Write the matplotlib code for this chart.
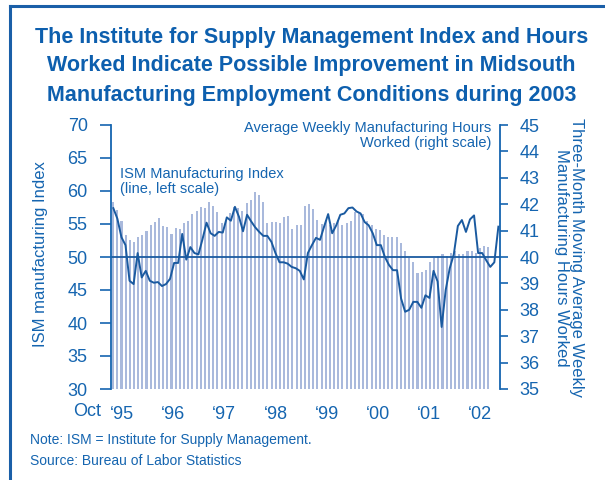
import numpy as np
import matplotlib.pyplot as plt

# ISM manufacturing index, monthly (left scale)
ism = [57.4, 55.8, 53.0, 51.8, 46.4, 45.9, 50.6, 46.9, 47.9, 46.4, 46.1, 46.2,
       45.6, 45.9, 46.7, 49.1, 49.1, 53.5, 49.6, 51.5, 50.6, 50.4, 52.7, 55.2,
       53.6, 53.2, 53.8, 53.7, 56.0, 55.5, 57.6, 56.1, 53.9, 56.4, 55.4, 54.5,
       53.8, 53.2, 53.2, 52.3, 50.6, 49.2, 49.2, 49.0, 48.5, 48.3, 47.9, 46.6,
       50.6, 51.8, 52.9, 52.6, 54.6, 56.5, 53.6, 54.8, 56.4, 56.6, 57.4, 57.5,
       56.9, 56.6, 55.3, 54.8, 53.6, 51.8, 51.8, 50.0, 48.8, 48.0, 48.0, 43.7,
       41.7, 42.0, 43.2, 43.2, 42.3, 44.2, 43.8, 47.9, 46.3, 39.4, 45.0, 48.3,
       50.4, 54.7, 55.6, 53.8, 55.7, 56.3, 50.6, 50.6, 49.5, 48.5, 49.2, 54.6]

# three-month moving average weekly manufacturing hours (right scale)
hours = [42.09, 41.78, 41.36, 40.83, 40.64, 40.57, 40.76, 40.83, 41.00, 41.20,
         41.33, 41.48, 41.17, 41.12, 40.87, 41.10, 41.07, 41.28, 41.36, 41.63,
         41.75, 41.89, 41.87, 42.08, 41.93, 41.70, 41.28, 41.38, 41.68, 41.90,
         41.86, 41.73, 42.06, 42.16, 42.47, 42.36, 42.08, 41.28, 41.33, 41.33,
         41.28, 41.50, 41.55, 41.07, 41.20, 41.20, 41.93, 42.00, 41.83, 41.40,
         41.25, 41.40, 41.21, 41.28, 41.40, 41.21, 41.28, 41.38, 41.70, 41.70,
         41.63, 41.38, 41.20, 41.07, 41.02, 40.82, 40.77, 40.77, 40.75, 40.52,
         40.23, 39.95, 39.82, 39.38, 39.44, 39.50, 39.80, 39.97, 40.05, 40.10,
         40.05, 40.14, 40.23, 40.10, 40.10, 40.23, 40.23, 40.14, 40.33, 40.42,
         40.38]

year_labels = ["\u201895", "\u201896", "\u201897", "\u201898", "\u201899",
               "\u201800", "\u201801", "\u201802"]
year_pos = [2.1, 14.3, 26.6, 39.0, 51.3, 63.6, 75.8, 88.1]  # in bar months

BLUE = "#1565b0"
DARK = "#1a5aa0"
BAR = "#a9b9dc"

plt.rcParams["font.family"] = ["Liberation Sans", "DejaVu Sans"]

fig = plt.figure(figsize=(6.05, 4.8), dpi=100)
rect = [111.3 / 605, 1 - 389 / 480, (500 - 111.3) / 605, (389 - 125) / 480]

# bars, right scale
axb = fig.add_axes(rect)
xb = np.arange(len(hours))
axb.bar(xb, np.array(hours) - 35, bottom=35, width=0.5, color=BAR, zorder=1)
axb.set_xlim(-0.45, 92.8)
axb.set_ylim(35, 45)
axb.yaxis.tick_right()
axb.set_yticks(range(35, 46))
axb.tick_params(axis="y", colors=BLUE, labelsize=13, length=6, width=1.2, pad=8,
                direction="out")
axb.set_xticks(year_pos)
axb.set_xticklabels(year_labels)
axb.tick_params(axis="x", length=0, colors=BLUE, labelsize=13, pad=12)
for s in ["top", "bottom", "left"]:
    axb.spines[s].set_visible(False)
axb.spines["right"].set_color(BLUE)
axb.spines["right"].set_linewidth(1.3)
axb.set_facecolor("none")

# line, left scale
axl = fig.add_axes(rect)
xl = np.arange(len(ism))
axl.plot(xl, ism, color=DARK, lw=1.4, zorder=3)
axl.axhline(50, color=DARK, lw=1.3, zorder=2)
axl.set_xlim(-0.5, 95.4)
axl.set_ylim(30, 70)
axl.set_yticks(range(30, 71, 5))
axl.tick_params(axis="y", colors=BLUE, labelsize=13, length=8, width=1.2, pad=9)
axl.set_xticks([])
axl.patch.set_visible(False)
for s in ["top", "bottom", "right"]:
    axl.spines[s].set_visible(False)
axl.spines["left"].set_color(BLUE)
axl.spines["left"].set_linewidth(1.3)

fig.text(87 / 605, 1 - 411 / 480, "Oct", color=BLUE, fontsize=13,
         ha="center", va="center")

axl.text(0.022, 0.84, "ISM Manufacturing Index\n(line, left scale)",
         transform=axl.transAxes, color=BLUE, fontsize=10.5, ha="left", va="top",
         linespacing=1.05)
axl.text(0.978, 1.015, "Average Weekly Manufacturing Hours\nWorked (right scale)",
         transform=axl.transAxes, color=BLUE, fontsize=10.5, ha="right", va="top",
         linespacing=1.05)

fig.text(41 / 605, 1 - 254 / 480, "ISM manufacturing Index", rotation=90,
         color=BLUE, fontsize=12, ha="center", va="center")
fig.text(569 / 605, 1 - 258 / 480,
         "Three-Month Moving Average Weekly\nManufacturing Hours Worked",
         rotation=270, color=BLUE, fontsize=12, ha="center", va="center",
         linespacing=0.95)

fig.text(0.515, 1 - 66 / 480,
         "The Institute for Supply Management Index and Hours\n"
         "Worked Indicate Possible Improvement in Midsouth\n"
         "Manufacturing Employment Conditions during 2003",
         color="#0d5fae", fontsize=15.5, fontweight="bold", ha="center",
         va="center", linespacing=1.5)

fig.text(30 / 605, 1 - 440 / 480, "Note: ISM = Institute for Supply Management.",
         color=BLUE, fontsize=10, ha="left", va="center")
fig.text(30 / 605, 1 - 461 / 480, "Source: Bureau of Labor Statistics",
         color=BLUE, fontsize=10, ha="left", va="center")

# frame on top and left
fig.add_artist(plt.Line2D([10 / 605, 10 / 605], [0, 1 - 6 / 480],
                          color="#1a5fa8", lw=2.2))
fig.add_artist(plt.Line2D([10 / 605, 1], [1 - 6 / 480, 1 - 6 / 480],
                          color="#1a5fa8", lw=2.2))

fig.savefig("out.png", dpi=100)
